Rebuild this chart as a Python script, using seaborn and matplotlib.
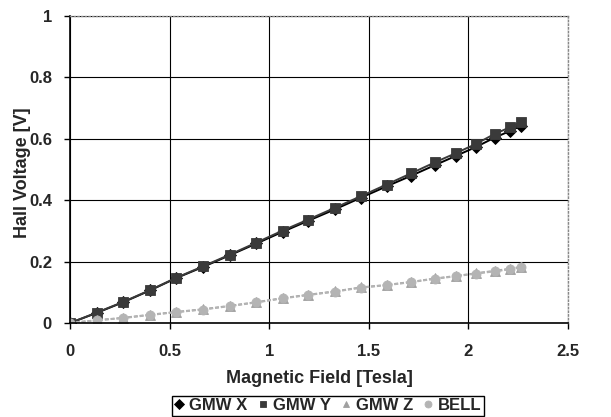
import matplotlib
matplotlib.use("Agg")
import matplotlib.pyplot as plt
import seaborn as sns
import pandas as pd

field = [0.0, 0.134, 0.268, 0.401, 0.532, 0.669, 0.803, 0.936, 1.067, 1.196,
         1.329, 1.46, 1.589, 1.714, 1.831, 1.936, 2.037, 2.132, 2.211, 2.266]
gmw_x = [0.0, 0.033, 0.068, 0.106, 0.146, 0.183, 0.221, 0.259, 0.297, 0.333,
         0.370, 0.408, 0.445, 0.480, 0.514, 0.544, 0.573, 0.604, 0.626, 0.643]
gmw_y = [0.0, 0.034, 0.069, 0.107, 0.147, 0.185, 0.223, 0.262, 0.301, 0.337,
         0.375, 0.413, 0.451, 0.488, 0.523, 0.553, 0.583, 0.616, 0.638, 0.656]
gmw_z = [0.0, 0.009, 0.017, 0.027, 0.036, 0.045, 0.056, 0.068, 0.081, 0.092,
         0.103, 0.116, 0.124, 0.134, 0.145, 0.153, 0.162, 0.170, 0.177, 0.183]
bell = [0.0, 0.009, 0.016, 0.026, 0.035, 0.044, 0.055, 0.067, 0.080, 0.091,
        0.102, 0.115, 0.123, 0.133, 0.144, 0.152, 0.161, 0.168, 0.175, 0.181]
series_names = ["GMW X", "GMW Y", "GMW Z", "BELL"]

rows = []
for name, vals in zip(series_names, [gmw_x, gmw_y, gmw_z, bell]):
    for xv, yv in zip(field, vals):
        rows.append({"field": xv, "volt": yv, "series": name})
df = pd.DataFrame(rows)

sns.set_theme(style="white")
plt.rcParams['font.family'] = ['Liberation Sans', 'DejaVu Sans']

fig = plt.figure(figsize=(6.11, 4.17), dpi=100)
ax = fig.add_axes([0.1146, 0.2254, 0.815, 0.7362])

palette = {"GMW X": "#000000", "GMW Y": "#3a3a3a", "GMW Z": "#a0a0a0", "BELL": "#b4b4b4"}
markers = {"GMW X": "D", "GMW Y": "s", "GMW Z": "^", "BELL": "o"}
dashes = {"GMW X": "", "GMW Y": "", "GMW Z": (2, 1), "BELL": (2, 1)}

sns.lineplot(data=df, x="field", y="volt", hue="series", style="series",
             palette=palette, markers=markers, dashes=dashes,
             hue_order=series_names, style_order=series_names,
             markersize=6.5, markeredgewidth=0.6, linewidth=1.4, ax=ax)

for line in ax.lines:
    line.set_markeredgecolor(line.get_color())

ax.set_xlim(0, 2.5)
ax.set_ylim(0, 1)
ax.set_xticks([0, 0.5, 1, 1.5, 2, 2.5])
ax.set_xticklabels(["0", "0.5", "1", "1.5", "2", "2.5"])
ax.set_yticks([0, 0.2, 0.4, 0.6, 0.8, 1])
ax.set_yticklabels(["0", "0.2", "0.4", "0.6", "0.8", "1"])
ax.grid(True, color="black", linewidth=0.8)
ax.set_axisbelow(True)
for lbl in ax.get_xticklabels() + ax.get_yticklabels():
    lbl.set_fontweight("bold")
    lbl.set_fontsize(12)
ax.tick_params(axis="both", which="both", direction="out", length=4,
               width=1, color="black")
ax.tick_params(axis="x", pad=11)
ax.tick_params(axis="y", pad=9)
ax.tick_params(bottom=True, left=True)

for side in ["left", "bottom"]:
    ax.spines[side].set_color("black")
    ax.spines[side].set_linewidth(1.2)
for side in ["top", "right"]:
    ax.spines[side].set_color("#888888")
    ax.spines[side].set_linestyle(":")
    ax.spines[side].set_linewidth(1.0)

ax.set_xlabel("Magnetic Field [Tesla]", fontsize=13, fontweight="bold", labelpad=8)
ax.set_ylabel("Hall Voltage [V]", fontsize=13, fontweight="bold")
ax.yaxis.set_label_coords(-0.078, 0.49)

handles, labels = ax.get_legend_handles_labels()
ax.legend(handles, labels, loc="lower center", bbox_to_anchor=(0.518, -0.302),
          ncol=4, frameon=True, fancybox=False, edgecolor="black",
          prop={"weight": "bold", "size": 12}, handlelength=0.6,
          handletextpad=0.3, columnspacing=0.6, borderpad=0.15,
          borderaxespad=0, framealpha=1)
leg = ax.get_legend()
for h in leg.get_lines():
    h.set_linestyle("")
    h.set_markersize(5)
leg.get_frame().set_linewidth(1.0)

fig.savefig("out.png", dpi=100)
